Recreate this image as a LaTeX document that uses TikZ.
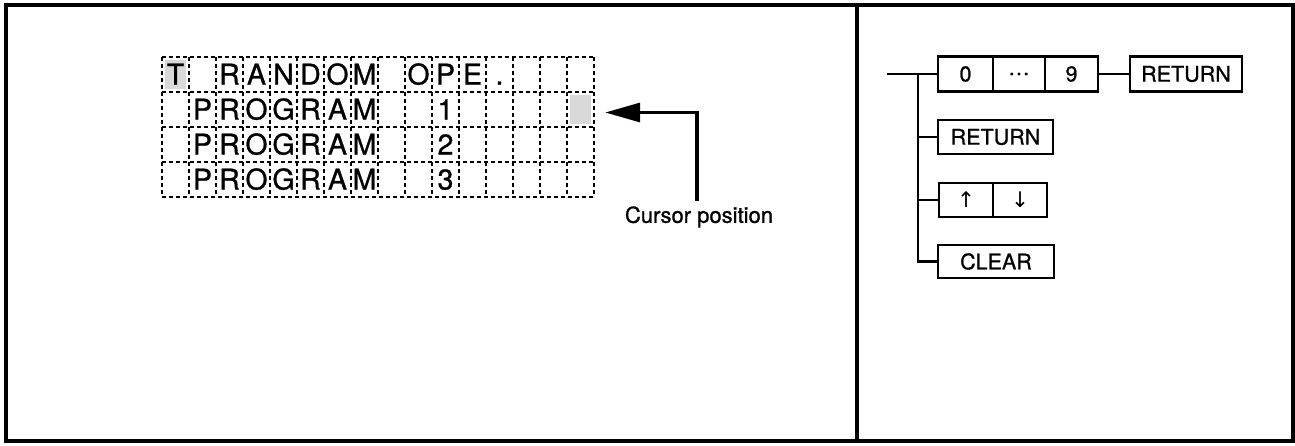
\documentclass[tikz,border=0pt]{standalone}
\usepackage{fontspec}
\setmainfont{TeX Gyre Heros}
\newfontfamily\heavy{TeX Gyre Heros}[FakeBold=0.9]
\newfontfamily\symfont{DejaVu Sans}
\usetikzlibrary{arrows.meta}
\begin{document}
\begin{tikzpicture}[x=1pt,y=-1pt,
  frame/.style={line width=3.4pt},
  gridline/.style={line width=2pt, dash pattern=on 4pt off 3pt},
  cellchar/.style={minimum width=27pt, minimum height=35pt, inner sep=0pt,
    text height=20pt, text depth=0pt, font=\heavy\fontsize{28.5}{28.5}\selectfont},
  shadecell/.style={fill=black!15},
  key/.style={draw, line width=2.8pt, inner sep=0pt, minimum height=35pt,
    font=\heavy\fontsize{21.5}{21.5}\selectfont},
  wire/.style={line width=2.8pt},
  ptr/.style={line width=3.2pt, -{Triangle[length=35pt,width=19pt]}},
  lbl/.style={inner sep=0pt, font=\heavy\fontsize{22}{22}\selectfont}
]
\useasboundingbox (0,0) rectangle (1295,445);
% frame
\draw[frame] (6,5) rectangle (1293,441);
\draw[frame] (857,5) -- (857,441);

% shaded cells
\fill[shadecell] (165,60) rectangle (186,89);
\fill[shadecell] (570,95) rectangle (591,124);

% grid
\foreach \i in {0,...,16} \draw[gridline] ({162+27*\i},57) -- ++(0,140);
\foreach \j in {0,...,4} \draw[gridline] (162,{57+35*\j}) -- ++(432,0);

% characters
\foreach \r/\txt in {1/{T,,R,A,N,D,O,M,,O,P,E,.,,,},
                     2/{,P,R,O,G,R,A,M,,,1,,,,,},
                     3/{,P,R,O,G,R,A,M,,,2,,,,,},
                     4/{,P,R,O,G,R,A,M,,,3,,,,,}}{
  \foreach \ch [count=\c] in \txt {
    \node[cellchar] (ch-\r-\c) at ({162+27*(\c-0.5)},{57+35*(\r-0.5)}) {\ch};
  }
}

% cursor pointer
\node[lbl] (cursor) at (699,217) {Cursor position};
\coordinate (ptrstart) at (697,201);
\draw[ptr] (ptrstart) |- ([xshift=11pt,yshift=-3pt]ch-2-16.east);

% key sequence
\node[key, minimum width=55pt] (d0) at (965.5,74) {0};
\node[key, minimum width=52pt] (dd) at (1019,74) {…};
\node[key, minimum width=53pt] (d9) at (1071.5,74) {9};
\node[key, minimum width=112pt] (ret1) at (1186,74) {RETURN};
\node[key, minimum width=115pt, minimum height=34pt] (ret2) at (995.5,137) {RETURN};
\node[key, minimum width=54pt, minimum height=34pt] (up) at (966,200) {\symfont ↑};
\node[key, minimum width=54pt, minimum height=34pt] (down) at (1020,200) {\symfont ↓};
\node[key, minimum width=116pt, minimum height=33pt] (clear) at (996,261.5) {CLEAR};

\coordinate (lead) at (887,74);
\coordinate (junc) at (918,74);
\draw[wire] (lead) -- (d0.west);
\draw[wire] (junc) |- (clear.west);
\draw[wire] (junc |- ret2.west) -- (ret2.west);
\draw[wire] (junc |- up.west) -- (up.west);
\draw[wire] (d9.east) -- (ret1.west);
\end{tikzpicture}
\end{document}
